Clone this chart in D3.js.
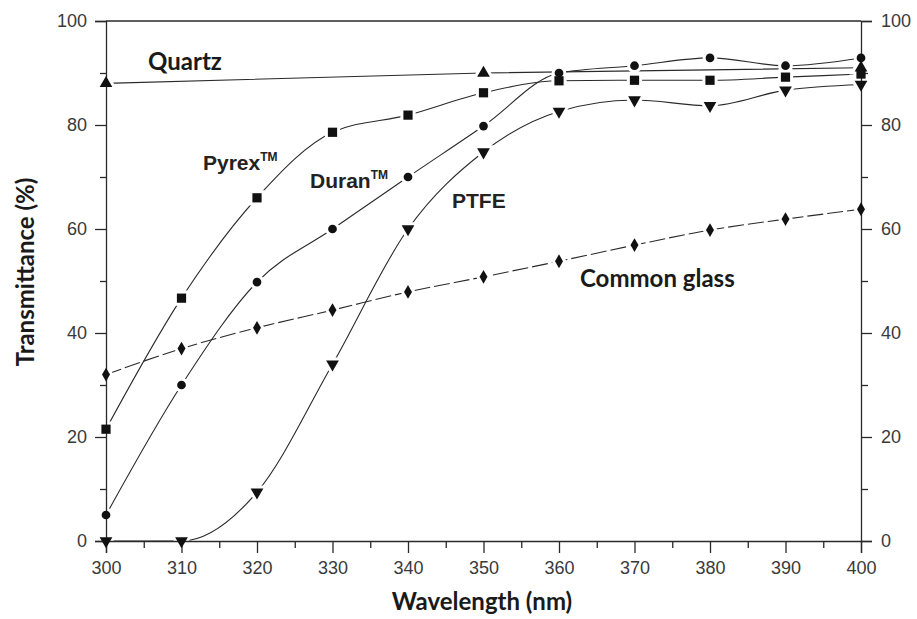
<!DOCTYPE html>
<html><head><meta charset="utf-8">
<script src="https://cdn.jsdelivr.net/npm/d3@7"></script>
<style>body{margin:0;background:#fff}</style>
</head><body>
<svg id="c" width="917" height="619"></svg>
<script>
const wavelengths = [300,310,320,330,340,350,360,370,380,390,400];
const quartzX = [300,350,400];
const quartz = [88,90,91];
const pyrex = [21.5,46.7,66,78.6,81.9,86.2,88.5,88.6,88.6,89.2,89.8];
const duran = [5,30,49.8,60,70,79.8,90,91.4,92.9,91.4,92.9];
const ptfe = [0,0,9.4,34,60,74.8,82.6,84.8,83.7,86.7,87.8];
const commonGlass = [32,37,41,44.4,47.9,50.8,53.8,56.9,59.8,61.9,63.8];
const xMajor = [300,310,320,330,340,350,360,370,380,390,400];
const xMinor = [305,315,325,335,345,355,365,375,385,395];
const yMajor = [0,20,40,60,80,100];
const yMinor = [10,30,50,70,90];

const svg = d3.select("#c");
const x = d3.scaleLinear().domain([300,400]).range([106,861]);
const y = d3.scaleLinear().domain([0,100]).range([541,21]);
const ink = "#2a2a2a";
const tickFont = "'Liberation Sans', Arial, sans-serif";

const line = d3.line().x(d=>x(d[0])).y(d=>y(d[1])).curve(d3.curveMonotoneX);
const series = [
  {name:"quartz", xs:quartzX, ys:quartz, sym:d3.symbolTriangle, size:70, rot:0, dash:null},
  {name:"pyrex", xs:wavelengths, ys:pyrex, sym:d3.symbolSquare, size:85, rot:0, dash:null},
  {name:"duran", xs:wavelengths, ys:duran, sym:d3.symbolCircle, size:60, rot:0, dash:null},
  {name:"ptfe", xs:wavelengths, ys:ptfe, sym:d3.symbolTriangle, size:70, rot:180, dash:null},
  {name:"glass", xs:wavelengths, ys:commonGlass, sym:d3.symbolDiamond, size:55, rot:0, dash:"16,4"}
];
const gl = svg.append("g");
series.forEach(s=>{
  const pts = s.xs.map((v,i)=>[v,s.ys[i]]);
  gl.append("path").datum(pts).attr("d",line).attr("fill","none").attr("stroke",ink)
    .attr("stroke-width",1.1).attr("stroke-dasharray",s.dash);
});
const gh = svg.append("g");
series.forEach(s=>{
  const pts = s.xs.map((v,i)=>[v,s.ys[i]]);
  const sym = d3.symbol().type(s.sym).size(s.size);
  gh.selectAll(null).data(pts).enter().append("path").attr("d",sym)
    .attr("transform",d=>`translate(${x(d[0])},${y(d[1])}) rotate(${s.rot})`)
    .attr("fill","#fff").attr("stroke","#fff").attr("stroke-width",6);
});

function styleAxis(g){
  g.selectAll("path.domain").attr("stroke", ink).attr("stroke-width",1.3);
  g.selectAll(".tick line").attr("stroke", ink).attr("stroke-width",1.3);
  g.selectAll("text").attr("font-size",18).attr("font-family",tickFont).attr("fill","#3a3a3a");
}
// bottom
svg.append("g").attr("transform",`translate(0,${y(0)})`)
  .call(d3.axisBottom(x).tickValues(xMajor).tickSize(12).tickPadding(8).tickFormat(d3.format("d"))).call(styleAxis);
svg.append("g").attr("transform",`translate(0,${y(0)})`)
  .call(d3.axisBottom(x).tickValues(xMinor).tickSize(7).tickFormat("")).call(styleAxis)
  .select("path.domain").remove();
// left
svg.append("g").attr("transform",`translate(${x(300)},0)`)
  .call(d3.axisLeft(y).tickValues(yMajor).tickSize(11).tickPadding(8).tickFormat(d3.format("d"))).call(styleAxis);
svg.append("g").attr("transform",`translate(${x(300)},0)`)
  .call(d3.axisLeft(y).tickValues(yMinor).tickSize(6).tickFormat("")).call(styleAxis)
  .select("path.domain").remove();
// right
svg.append("g").attr("transform",`translate(${x(400)},0)`)
  .call(d3.axisRight(y).tickValues(yMajor).tickSize(11).tickPadding(9).tickFormat(d3.format("d"))).call(styleAxis);
svg.append("g").attr("transform",`translate(${x(400)},0)`)
  .call(d3.axisRight(y).tickValues(yMinor).tickSize(7).tickFormat("")).call(styleAxis)
  .select("path.domain").remove();
// top border
svg.append("line").attr("x1",x(300)).attr("x2",x(400)).attr("y1",y(100)).attr("y2",y(100))
  .attr("stroke",ink).attr("stroke-width",1.3);

const gm = svg.append("g");
series.forEach(s=>{
  const pts = s.xs.map((v,i)=>[v,s.ys[i]]);
  const sym = d3.symbol().type(s.sym).size(s.size);
  gm.selectAll(null).data(pts).enter().append("path").attr("d",sym)
    .attr("transform",d=>`translate(${x(d[0])},${y(d[1])}) rotate(${s.rot})`)
    .attr("fill","#111");
});

// labels
const lab = "'Liberation Sans', Arial, sans-serif";
const cal = "Lato, 'Open Sans', sans-serif";
svg.append("text").attr("x",148).attr("y",70).attr("font-family",cal).attr("font-weight","bold")
  .attr("font-size",24).attr("fill","#1a1a1a").text("Quartz");
function tm(xp,yp,name){
  const t = svg.append("text").attr("x",xp).attr("y",yp).attr("font-family",lab).attr("font-weight","bold")
    .attr("font-size",21).attr("fill","#222");
  t.append("tspan").text(name);
  t.append("tspan").attr("dy",-9).attr("font-size",12).text("TM");
}
tm(203,170,"Pyrex");
tm(310,188,"Duran");
svg.append("text").attr("x",452).attr("y",208).attr("font-family",lab).attr("font-weight","bold")
  .attr("font-size",21).attr("fill","#222").text("PTFE");
svg.append("text").attr("x",580).attr("y",287).attr("font-family",cal).attr("font-weight","bold")
  .attr("font-size",24).attr("fill","#1a1a1a").text("Common glass");
svg.append("text").attr("x",482).attr("y",610).attr("text-anchor","middle").attr("font-family",cal)
  .attr("font-weight","bold").attr("font-size",24).attr("fill","#1a1a1a").text("Wavelength (nm)");
svg.append("text").attr("transform","translate(34,272) rotate(-90)").attr("text-anchor","middle")
  .attr("font-family",cal).attr("font-weight","bold").attr("font-size",24).attr("fill","#1a1a1a")
  .text("Transmittance (%)");
</script>
</body></html>
